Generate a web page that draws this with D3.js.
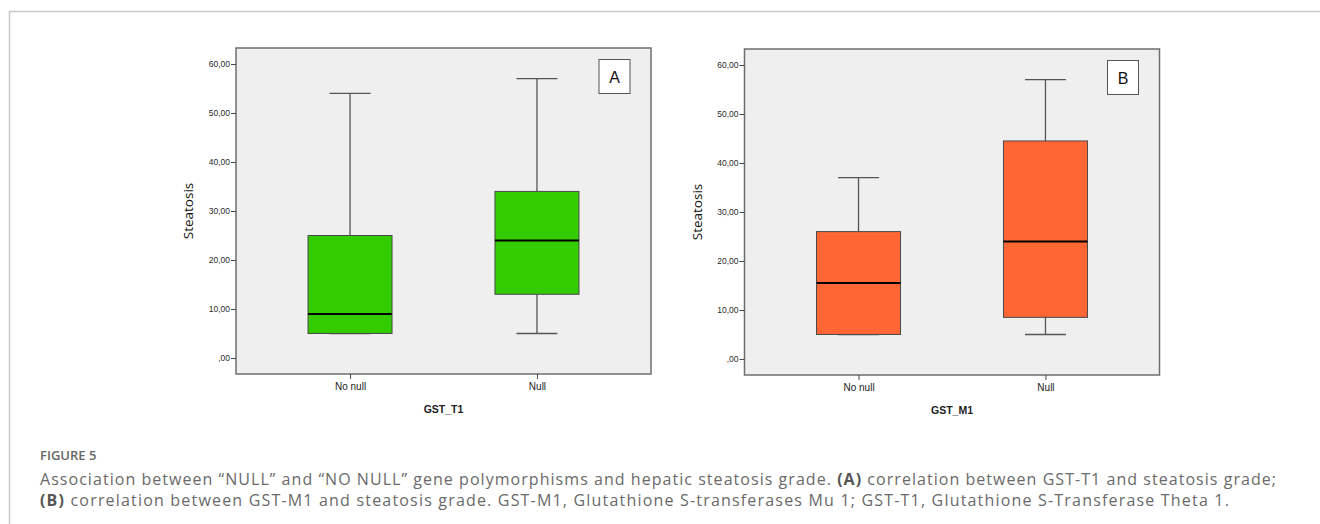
<!DOCTYPE html>
<html>
<head>
<meta charset="utf-8">
<title>Figure 5 - GST polymorphisms and steatosis</title>
<script src="https://cdn.jsdelivr.net/npm/d3@7"></script>
<style>
  html, body { margin: 0; padding: 0; background: #fff; }
  svg { display: block; }
</style>
</head>
<body>
<div id="chart"></div>
<script>
(function () {
  'use strict';

  // ---- data ----
  var CATEGORIES = ['No null', 'Null'];
  var Y_TICKS    = [0, 10, 20, 30, 40, 50, 60];

  // GST_T1 panel (A)
  var T1_MIN    = [5, 5];
  var T1_Q1     = [5, 13];
  var T1_MEDIAN = [9, 24];
  var T1_Q3     = [25, 34];
  var T1_MAX    = [54, 57];

  // GST_M1 panel (B)
  var M1_MIN    = [5, 5];
  var M1_Q1     = [5, 8.5];
  var M1_MEDIAN = [15.5, 24];
  var M1_Q3     = [26, 44.5];
  var M1_MAX    = [37, 57];

  var PANELS = [
    { letter: 'A', xTitle: 'GST_T1', fill: '#33cc00',
      min: T1_MIN, q1: T1_Q1, med: T1_MEDIAN, q3: T1_Q3, max: T1_MAX },
    { letter: 'B', xTitle: 'GST_M1', fill: '#ff6633',
      min: M1_MIN, q1: M1_Q1, med: M1_MEDIAN, q3: M1_Q3, max: M1_MAX }
  ];

  var CAPTION_HEAD = 'FIGURE 5';
  var CAPTION_1 = [
    { t: 'Association between \u201cNULL\u201d and \u201cNO NULL\u201d gene polymorphisms and hepatic steatosis grade. ', b: false },
    { t: '(A)', b: true },
    { t: ' correlation between GST-T1 and steatosis grade;', b: false }
  ];
  var CAPTION_2 = [
    { t: '(B)', b: true },
    { t: ' correlation between GST-M1 and steatosis grade. GST-M1, Glutathione S-transferases Mu 1; GST-T1, Glutathione S-Transferase Theta 1.', b: false }
  ];

  // ---- layout ----
  var W = 1320, H = 524;
  var PW = 415, PH = 326;
  var ORIGINS = [[236, 48], [744.5, 49]];
  var BOX_W = 84, CAP_W = 41;

  var fmt = function (v) { return v === 0 ? ',00' : v.toFixed(2).replace('.', ','); };

  var svg = d3.select('#chart').append('svg')
    .attr('width', W).attr('height', H);

  // card frame (top + left edges only visible)
  svg.append('path')
    .attr('d', 'M9.5,' + (H + 5) + 'V11.5H' + (W + 5))
    .attr('fill', 'none')
    .attr('stroke', '#c8c8c8')
    .attr('stroke-width', 1.5);

  var y = d3.scaleLinear().domain([-3.27, 63.27]).range([PH, 0]);
  var x = d3.scalePoint().domain(CATEGORIES).range([0, PW]).padding(0.61);

  PANELS.forEach(function (p, pi) {
    var g = svg.append('g')
      .attr('transform', 'translate(' + ORIGINS[pi][0] + ',' + ORIGINS[pi][1] + ')');

    g.append('rect')
      .attr('width', PW).attr('height', PH)
      .attr('fill', '#efefef')
      .attr('stroke', '#6e6e6e')
      .attr('stroke-width', 1.5);

    // y axis
    var yAx = g.append('g')
      .call(d3.axisLeft(y).tickValues(Y_TICKS).tickFormat(fmt).tickSize(5).tickPadding(1));
    yAx.select('.domain').remove();
    yAx.selectAll('line').attr('stroke', '#444');
    yAx.selectAll('text')
      .attr('font-family', 'Arial, "Liberation Sans", sans-serif')
      .attr('font-size', '8.5px')
      .attr('fill', '#2a2a2a');

    // x axis
    var xAx = g.append('g')
      .attr('transform', 'translate(0,' + PH + ')')
      .call(d3.axisBottom(x).tickSize(5).tickPadding(4));
    xAx.select('.domain').remove();
    xAx.selectAll('line').attr('stroke', '#444');
    xAx.selectAll('text')
      .attr('font-family', 'Arial, "Liberation Sans", sans-serif')
      .attr('font-size', '10px')
      .attr('fill', '#222');

    // axis titles
    g.append('text')
      .attr('x', PW / 2).attr('y', PH + 39)
      .attr('text-anchor', 'middle')
      .attr('font-family', 'Arial, "Liberation Sans", sans-serif')
      .attr('font-size', '10.5px')
      .attr('font-weight', 'bold')
      .attr('fill', '#222')
      .text(p.xTitle);

    g.append('text')
      .attr('transform', 'translate(-43,' + (PH / 2) + ') rotate(-90)')
      .attr('text-anchor', 'middle')
      .attr('font-family', '"Open Sans", sans-serif')
      .attr('font-size', '13.5px')
      .attr('fill', '#111')
      .text('Steatosis');

    // boxes
    var items = CATEGORIES.map(function (c, i) {
      return { cat: c, min: p.min[i], q1: p.q1[i], med: p.med[i], q3: p.q3[i], max: p.max[i] };
    });

    var box = g.selectAll('g.box').data(items).enter()
      .append('g').attr('class', 'box')
      .attr('transform', function (d) { return 'translate(' + x(d.cat) + ',0)'; });

    // whiskers
    box.append('line')
      .attr('y1', function (d) { return y(d.max); })
      .attr('y2', function (d) { return y(d.q3); })
      .attr('stroke', '#555').attr('stroke-width', 1.3);
    box.append('line')
      .attr('y1', function (d) { return y(d.q1); })
      .attr('y2', function (d) { return y(d.min); })
      .attr('stroke', '#555').attr('stroke-width', 1.3);

    // caps
    ['max', 'min'].forEach(function (k) {
      box.append('line')
        .attr('x1', -CAP_W / 2).attr('x2', CAP_W / 2)
        .attr('y1', function (d) { return y(d[k]); })
        .attr('y2', function (d) { return y(d[k]); })
        .attr('stroke', '#555').attr('stroke-width', 1.3);
    });

    box.append('rect')
      .attr('x', -BOX_W / 2).attr('width', BOX_W)
      .attr('y', function (d) { return y(d.q3); })
      .attr('height', function (d) { return y(d.q1) - y(d.q3); })
      .attr('fill', p.fill)
      .attr('stroke', '#4a4a4a')
      .attr('stroke-width', 1);

    box.append('line')
      .attr('x1', -BOX_W / 2).attr('x2', BOX_W / 2)
      .attr('y1', function (d) { return y(d.med); })
      .attr('y2', function (d) { return y(d.med); })
      .attr('stroke', '#000').attr('stroke-width', 2);

    // panel letter
    g.append('rect')
      .attr('x', PW - 52).attr('y', 11.5)
      .attr('width', 31).attr('height', 34)
      .attr('fill', '#fff')
      .attr('stroke', '#555').attr('stroke-width', 1);
    g.append('text')
      .attr('x', PW - 36.5).attr('y', 34.5)
      .attr('text-anchor', 'middle')
      .attr('font-family', 'Arial, "Liberation Sans", sans-serif')
      .attr('font-size', '16px')
      .attr('fill', '#111')
      .text(p.letter);
  });

  // ---- caption ----
  var CAP_FONT = '"Open Sans", Lato, sans-serif';
  svg.append('text')
    .attr('x', 40).attr('y', 460)
    .attr('font-family', CAP_FONT)
    .attr('font-size', '13px')
    .attr('font-weight', 600)
    .attr('fill', '#666')
    .text(CAPTION_HEAD);

  function captionLine(parts, yPos, targetW) {
    var t = svg.append('text')
      .attr('x', 40).attr('y', yPos)
      .attr('font-family', CAP_FONT)
      .attr('font-size', '16px')
      .attr('fill', '#6a6a6a');
    parts.forEach(function (s) {
      t.append('tspan')
        .attr('font-weight', s.b ? 'bold' : 'normal')
        .attr('fill', s.b ? '#555' : '#6a6a6a')
        .text(s.t);
    });
    // nudge letter spacing so line length matches the original typeface
    var w = t.node().getComputedTextLength();
    var n = parts.reduce(function (a, s) { return a + s.t.length; }, 0);
    t.attr('letter-spacing', ((targetW - w) / n).toFixed(3) + 'px');
  }
  captionLine(CAPTION_1, 484.5, 1237);
  captionLine(CAPTION_2, 505.5, 1190);

})();
</script>
</body>
</html>
